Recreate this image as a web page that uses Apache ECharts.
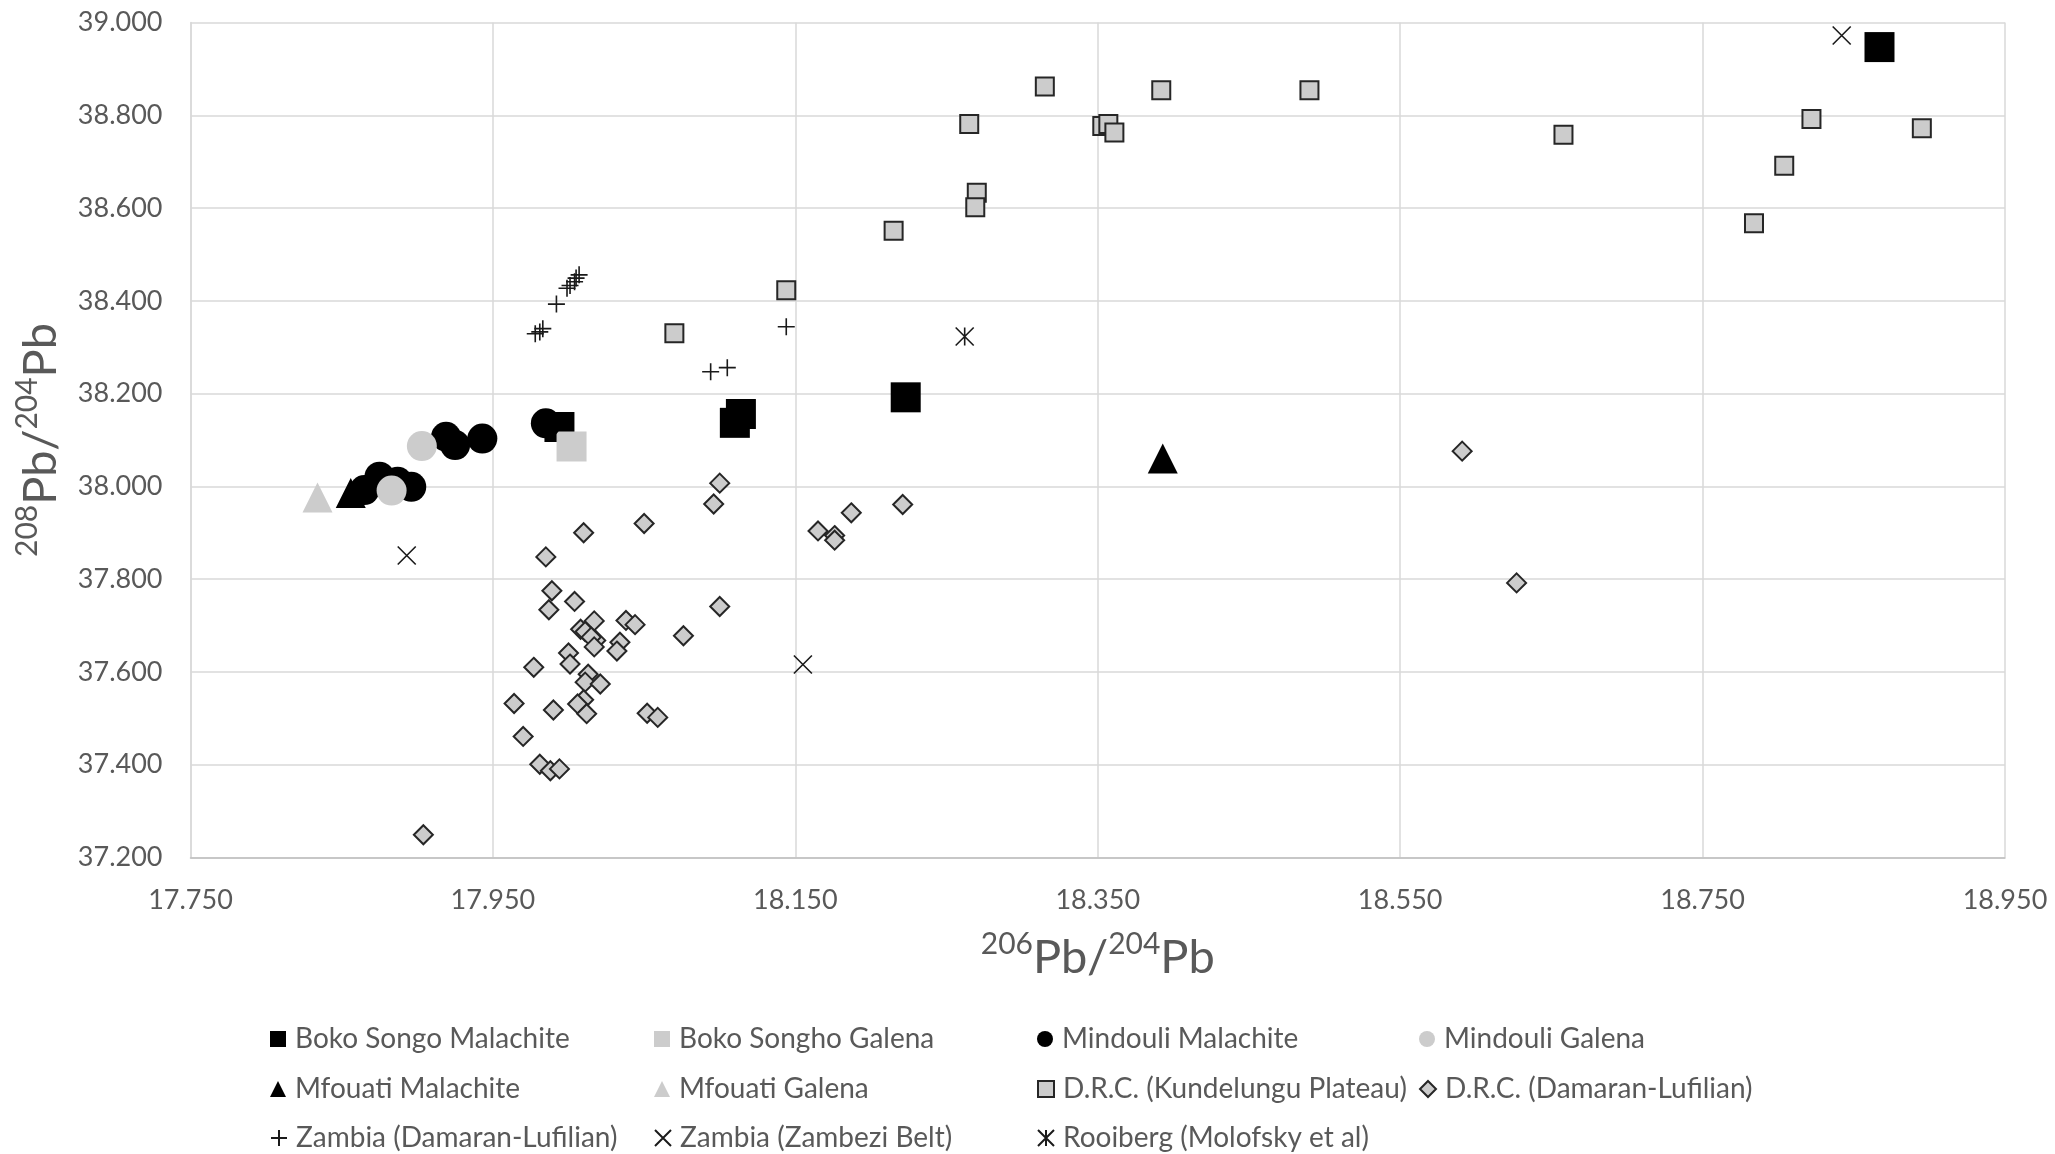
<!DOCTYPE html>
<html>
<head>
<meta charset="utf-8">
<script src="https://cdn.jsdelivr.net/npm/echarts@6/dist/echarts.min.js"></script>
<style>
  html, body { margin: 0; padding: 0; background: #ffffff; }
  #chart { width: 2055px; height: 1154px; }
</style>
</head>
<body>
<div id="chart"></div>
<script>
// Lead isotope ratios: [206Pb/204Pb, 208Pb/204Pb]
const bokoSongoMalachite = [[17.994, 38.128], [18.110, 38.137], [18.114, 38.156], [18.223, 38.192], [18.867, 38.947]];
const bokoSonghoGalena = [[18.002, 38.086]];
const mindouliMalachite = [[17.865, 37.992], [17.875, 38.021], [17.887, 38.010], [17.896, 37.999], [17.919, 38.107], [17.925, 38.089], [17.943, 38.103], [17.985, 38.136]];
const mindouliGalena = [[17.883, 37.991], [17.903, 38.087]];
const mfouatiMalachite = [[17.856, 37.986], [18.393, 38.060]];
const mfouatiGalena = [[17.834, 37.976]];
const drcKundelungu = [
  [18.070, 38.330], [18.144, 38.423], [18.215, 38.551], [18.270, 38.633], [18.269, 38.602],
  [18.265, 38.781], [18.315, 38.862], [18.353, 38.777], [18.357, 38.781], [18.361, 38.763],
  [18.392, 38.854], [18.490, 38.854], [18.658, 38.758], [18.784, 38.567], [18.804, 38.691],
  [18.822, 38.792], [18.895, 38.772]
];
const drcDamaranLufilian = [
  [18.100, 38.007], [18.096, 37.962], [18.050, 37.920], [18.010, 37.900], [17.985, 37.848],
  [17.989, 37.775], [18.004, 37.752], [17.987, 37.734], [18.100, 37.741], [18.017, 37.710],
  [18.008, 37.692], [18.011, 37.687], [18.038, 37.711], [18.044, 37.702], [18.076, 37.678],
  [18.018, 37.668], [18.015, 37.675], [18.017, 37.654], [18.034, 37.664], [18.032, 37.645],
  [18.000, 37.641], [18.001, 37.617], [17.977, 37.610], [18.013, 37.595], [18.011, 37.578],
  [18.021, 37.574], [17.964, 37.532], [17.990, 37.518], [18.010, 37.540], [18.006, 37.531],
  [18.012, 37.510], [18.052, 37.511], [18.059, 37.502], [17.970, 37.461], [17.981, 37.401],
  [17.988, 37.387], [17.994, 37.391], [17.904, 37.249], [18.165, 37.904], [18.176, 37.894],
  [18.176, 37.884], [18.187, 37.943], [18.221, 37.961], [18.591, 38.076], [18.627, 37.792]
];
const zambiaDamaranLufilian = [
  [17.978, 38.329], [17.981, 38.333], [17.983, 38.340], [17.992, 38.393], [17.999, 38.427],
  [18.001, 38.433], [18.004, 38.441], [18.005, 38.449], [18.007, 38.456], [18.094, 38.247],
  [18.105, 38.256], [18.144, 38.344]
];
const zambiaZambeziBelt = [[17.893, 37.851], [18.155, 37.616], [18.842, 38.972]];
const rooiberg = [[18.262, 38.323]];

// Axis ticks
const xTicks = [17.75, 17.95, 18.15, 18.35, 18.55, 18.75, 18.95];
const yTicks = [37.2, 37.4, 37.6, 37.8, 38.0, 38.2, 38.4, 38.6, 38.8, 39.0];

const FONT = 'Lato';
const TEXT = '#595959';
const GREY_FILL = '#cccccc';

const PLUS = 'path://M5,0L5,10M0,5L10,5';
const CROSS = 'path://M0,0L10,10M10,0L0,10';
const STAR = 'path://M0,0L10,10M10,0L0,10M5,0L5,10';

function series(name, data, symbol, size, itemStyle) {
  return {
    name: name,
    type: 'scatter',
    data: data,
    symbol: symbol,
    symbolSize: size,
    itemStyle: Object.assign({ opacity: 1 }, itemStyle),
    emphasis: { disabled: true }
  };
}

const solidBlack = { color: '#000000' };
const solidGrey = { color: GREY_FILL };
const outlinedGrey = { color: GREY_FILL, borderColor: '#262626', borderWidth: 2 };
const strokeOnly = { color: 'rgba(0,0,0,0)', borderColor: '#1a1a1a', borderWidth: 1.6 };

const seriesList = [
  series('Boko Songo Malachite', bokoSongoMalachite, 'rect', 30, solidBlack),
  series('Boko Songho Galena', bokoSonghoGalena, 'rect', 30, solidGrey),
  series('Mindouli Malachite', mindouliMalachite, 'circle', 30, solidBlack),
  series('Mindouli Galena', mindouliGalena, 'circle', 30, solidGrey),
  series('Mfouati Malachite', mfouatiMalachite, 'triangle', 30, solidBlack),
  series('Mfouati Galena', mfouatiGalena, 'triangle', 30, solidGrey),
  series('D.R.C. (Kundelungu Plateau)', drcKundelungu, 'rect', 18, outlinedGrey),
  series('D.R.C. (Damaran-Lufilian)', drcDamaranLufilian, 'diamond', 19, outlinedGrey),
  series('Zambia (Damaran-Lufilian)', zambiaDamaranLufilian, PLUS, 17, strokeOnly),
  series('Zambia (Zambezi Belt)', zambiaZambeziBelt, CROSS, 18, strokeOnly),
  series('Rooiberg (Molofsky et al)', rooiberg, STAR, 18, strokeOnly)
];

// Legend grid: four columns, three rows
const legendColumnLeft = [270, 654, 1037, 1419];
const legendRowTop = [1024, 1074, 1123];
const legendLayout = [
  ['Boko Songo Malachite', 'Boko Songho Galena', 'Mindouli Malachite', 'Mindouli Galena'],
  ['Mfouati Malachite', 'Mfouati Galena', 'D.R.C. (Kundelungu Plateau)', 'D.R.C. (Damaran-Lufilian)'],
  ['Zambia (Damaran-Lufilian)', 'Zambia (Zambezi Belt)', 'Rooiberg (Molofsky et al)']
];

const legends = [];
legendLayout.forEach(function (row, r) {
  row.forEach(function (name, c) {
    legends.push({
      left: legendColumnLeft[c],
      top: legendRowTop[r],
      data: [name],
      itemWidth: 16,
      itemHeight: 16,
      selectedMode: false,
      padding: 0,
      textStyle: { fontFamily: FONT, fontSize: 28, color: TEXT, lineHeight: 30, padding: [0, 0, 0, 4] }
    });
  });
});

const nameRich = {
  b: { fontFamily: FONT, fontSize: 47, color: TEXT, lineHeight: 52, verticalAlign: 'bottom' },
  sup: { fontFamily: FONT, fontSize: 30, color: TEXT, lineHeight: 52, verticalAlign: 'top' }
};

const chart = echarts.init(document.getElementById('chart'), null, { renderer: 'canvas' });
chart.setOption({
  animation: false,
  backgroundColor: '#ffffff',
  grid: { left: 190.5, right: 50, top: 22.5, bottom: 296.5, containLabel: false },
  legend: legends,
  xAxis: {
    type: 'value',
    min: xTicks[0],
    max: xTicks[xTicks.length - 1],
    interval: 0.2,
    name: '{sup|206}{b|Pb/}{sup|204}{b|Pb}',
    nameLocation: 'middle',
    nameGap: 72,
    nameTextStyle: { rich: nameRich },
    axisLine: { show: true, lineStyle: { color: '#bfbfbf', width: 1.5 } },
    axisTick: { show: false },
    splitLine: { show: true, lineStyle: { color: '#d9d9d9', width: 1.5 } },
    axisLabel: {
      margin: 29,
      fontFamily: FONT, fontSize: 27, color: TEXT,
      formatter: function (v) { return v.toFixed(3); }
    }
  },
  yAxis: {
    type: 'value',
    min: yTicks[0],
    max: yTicks[yTicks.length - 1],
    interval: 0.2,
    name: '{sup|208}{b|Pb/}{sup|204}{b|Pb}',
    nameLocation: 'middle',
    nameRotate: 90,
    nameGap: 126,
    nameTextStyle: { rich: nameRich },
    axisLine: { show: true, lineStyle: { color: '#d9d9d9', width: 1.5 } },
    axisTick: { show: false },
    splitLine: { show: true, lineStyle: { color: '#d9d9d9', width: 1.5 } },
    axisLabel: {
      margin: 28,
      fontFamily: FONT, fontSize: 27, color: TEXT,
      formatter: function (v) { return v.toFixed(3); }
    }
  },
  series: seriesList
});
</script>
</body>
</html>
